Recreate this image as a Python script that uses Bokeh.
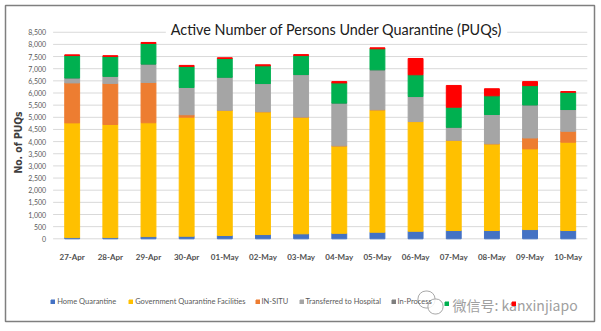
import math
from bokeh.plotting import figure
from bokeh.models import (ColumnDataSource, Legend, LegendItem, Label, Range1d,
                          FixedTicker, NumeralTickFormatter)
from bokeh.embed import file_html
from bokeh.resources import INLINE

# ---------------- data ----------------
dates = ["27-Apr", "28-Apr", "29-Apr", "30-Apr", "01-May", "02-May", "03-May",
         "04-May", "05-May", "06-May", "07-May", "08-May", "09-May", "10-May"]
home_quarantine = [50, 50, 90, 105, 135, 175, 205, 225, 270, 310, 340, 340, 380, 340]
gov_facilities = [4720, 4655, 4685, 4900, 5155, 5055, 4805, 3600, 5040, 4515, 3715, 3570, 3320, 3635]
in_situ = [1645, 1690, 1660, 100, 0, 0, 0, 0, 0, 0, 0, 0, 450, 450]
transferred = [205, 290, 755, 1125, 1360, 1160, 1750, 1760, 1645, 1030, 535, 1205, 1360, 895]
in_process = [0, 0, 0, 0, 0, 0, 0, 0, 0, 0, 0, 0, 0, 0]
green_series = [920, 820, 850, 865, 770, 730, 780, 830, 865, 895, 825, 770, 795, 710]
red_series = [30, 30, 40, 40, 30, 40, 40, 55, 40, 670, 895, 290, 165, 28]

y_ticks = list(range(0, 8501, 500))
series_keys = ["home", "gov", "insitu", "transferred", "inproc", "green", "red"]
series_labels = ["Home Quarantine", "Government Quarantine Facilities", "IN-SITU",
                 "Transferred to Hospital", "In-Process", " ", " "]
colors = ["#4472C4", "#FFC000", "#ED7D31", "#A5A5A5", "#7F7F7F", "#00B050", "#FF0000"]

n = len(dates)
xpos = [i + 0.5 for i in range(n)]          # category centres on the x scale
src = ColumnDataSource(dict(x=xpos, date=dates, home=home_quarantine, gov=gov_facilities,
                            insitu=in_situ, transferred=transferred, inproc=in_process,
                            green=green_series, red=red_series))
grid_src = ColumnDataSource(dict(x0=[0] * len(y_ticks), x1=[n] * len(y_ticks), y=y_ticks))

FONT = "Lato"

# ---------------- geometry (canvas pixels) ----------------
W, H = 601, 331
FL, FR, FT, FB = 5, 594, 5, 321         # chart border = frame
PL, PR = 52.6, 586.8                    # plot-area left/right
ZERO_Y = 238.3                          # canvas y of value 0
UNITS_PER_PX = 500 / 12.15
px_per_cat = (PR - PL) / n
x_start = -(PL - FL) / px_per_cat
x_end = n + (FR - PR) / px_per_cat
y_start = -(FB - ZERO_Y) * UNITS_PER_PX
y_end = (ZERO_Y - FT) * UNITS_PER_PX

p = figure(x_range=Range1d(x_start, x_end), y_range=Range1d(y_start, y_end),
           width=W, height=H, output_backend="svg", toolbar_location=None,
           min_border_left=FL, min_border_right=W - FR,
           min_border_top=FT, min_border_bottom=H - FB)
p.outline_line_color = "#7F7F7F"
p.outline_line_width = 1.5
p.background_fill_color = "white"
p.border_fill_color = "white"
p.xgrid.grid_line_color = None
p.ygrid.grid_line_color = None

# gridlines across the plot area only
p.segment(x0="x0", x1="x1", y0="y", y1="y", source=grid_src,
          line_color="#D9D9D9", line_width=1)

rs = p.vbar_stack(series_keys, x="x", width=0.39, color=colors, source=src)

# y axis, fixed at the plot-area left edge
p.yaxis.fixed_location = 0
p.yaxis.ticker = FixedTicker(ticks=y_ticks)
p.yaxis.formatter = NumeralTickFormatter(format="0,0")
p.yaxis.axis_line_color = None
p.yaxis.major_tick_line_color = None
p.yaxis.minor_tick_line_color = None
p.yaxis.major_tick_out = 0
p.yaxis.major_tick_in = 0
p.yaxis.minor_tick_out = 0
p.yaxis.major_label_text_font = FONT
p.yaxis.major_label_text_font_size = "7px"
p.yaxis.major_label_text_color = "#595959"
p.yaxis.major_label_standoff = 7

# x axis fixed at value 0
p.xaxis.fixed_location = 0
p.xaxis.ticker = FixedTicker(ticks=xpos)
p.xaxis.major_label_overrides = {x: d for x, d in zip(xpos, dates)}
p.xaxis.axis_line_color = None
p.xaxis.major_tick_line_color = None
p.xaxis.minor_tick_line_color = None
p.xaxis.major_tick_out = 0
p.xaxis.major_tick_in = 0
p.xaxis.minor_tick_out = 0
p.xaxis.major_label_text_font = FONT
p.xaxis.major_label_text_font_size = "8px"
p.xaxis.major_label_text_font_style = "bold"
p.xaxis.major_label_text_color = "#505050"
p.xaxis.major_label_standoff = 13

# y axis title
ylab = Label(x=17 - FL, y=FB - 142, x_units="screen", y_units="screen",
             text="No. of PUQs", angle=math.pi / 2,
             text_align="center", text_baseline="middle",
             text_font="DejaVu Sans Condensed", text_font_size="10.3px",
             text_font_style="bold", text_color="#404040")
p.add_layout(ylab)

# chart title with white box over the top gridline
title = Label(x=336 - FL, y=FB - 29, x_units="screen", y_units="screen",
              text="Active Number of Persons Under Quarantine (PUQs)",
              text_align="center", text_baseline="middle",
              text_font="Lato", text_font_size="14.4px", text_color="#202020",
              background_fill_color="white", padding=5)
p.add_layout(title)

# legends, one per item
legend_x = [50.2, 128.2, 254.5, 298.5, 390.5, 444.2, 510.5]
for r, lab, lx in zip(rs, series_labels, legend_x):
    leg = Legend(items=[LegendItem(label=lab, renderers=[r])],
                 location=(lx - FL, FB - 306),
                 orientation="horizontal", glyph_width=5, glyph_height=5,
                 label_standoff=2, padding=0, margin=0, spacing=0,
                 border_line_color=None, background_fill_alpha=0,
                 label_text_font=FONT, label_text_font_size="7.5px",
                 label_text_color="#595959", label_height=5)
    p.add_layout(leg)

# watermark (wechat-like bubbles + id)
for cx, cy, pad, rad in [(426, 299, (8, 6), 8), (435, 306, (7, 5), 7)]:
    p.add_layout(Label(x=cx - FL, y=FB - cy, x_units="screen", y_units="screen",
                       text=" ", text_align="center", text_baseline="middle",
                       text_font_size="4px", background_fill_color="white",
                       background_fill_alpha=0.85,
                       border_line_color="#A8A8A8", border_line_width=1,
                       border_radius=rad, padding=pad))
wm = Label(x=452 - FL, y=FB - 304.7, x_units="screen", y_units="screen",
           text="微信号: kanxinjiapo", text_align="left", text_baseline="middle",
           text_font="Noto Sans CJK SC", text_font_size="14px",
           text_color="#A0A0A0")
p.add_layout(wm)

open("out.html", "w").write(file_html(p, INLINE))
